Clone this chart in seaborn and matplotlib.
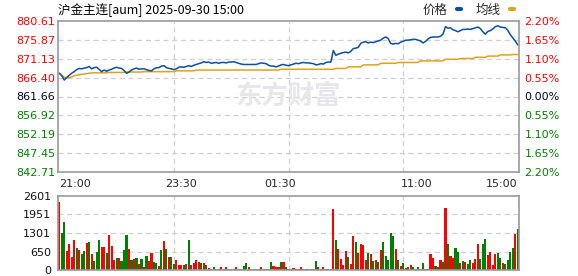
import matplotlib
matplotlib.use("Agg")
import matplotlib.pyplot as plt
from matplotlib.lines import Line2D
import seaborn as sns
import pandas as pd

# ---------------- data ----------------
title_text = "沪金主连[aum] 2025-09-30 15:00"
legend_labels = ["价格", "均线"]
watermark_text = "东方财富"

price_ticks = [842.71, 847.45, 852.19, 856.92, 861.66, 866.40, 871.13, 875.87, 880.61]
pct_labels = ["2.20%", "1.65%", "1.10%", "0.55%", "0.00%", "0.55%", "1.10%", "1.65%", "2.20%"]
time_labels = ["21:00", "23:30", "01:30", "11:00", "15:00"]
time_label_pos = [0, 48.8, 88.5, 143.5, 184]
grid_pos = [46, 92, 138]
vol_ticks = [0, 650, 1301, 1951, 2601]

price = [
    867.5, 866.9, 865.8, 866.4, 867.0, 867.5, 867.9, 868.4, 868.7, 868.6,
    868.8, 868.9, 869.2, 868.6, 868.9, 869.0, 868.5, 867.9, 868.3, 868.0,
    868.3, 868.5, 868.8, 869.0, 868.8, 868.7, 868.2, 867.5, 867.8, 868.3,
    868.6, 868.8, 868.5, 868.6, 868.6, 868.4, 868.2, 868.1, 868.6, 868.9,
    868.9, 869.3, 869.4, 868.9, 868.7, 868.6, 868.4,
    868.6, 869.0, 869.1, 869.0, 869.2, 869.4, 869.2, 869.5, 869.7, 869.9,
    870.1, 870.4, 870.2, 870.3, 870.0, 870.1, 870.2, 870.0, 870.2, 870.2,
    870.1, 870.3, 870.3, 870.4, 870.2, 870.0, 869.8, 869.7, 869.7, 869.7,
    869.7, 869.7, 869.7, 869.9, 870.1, 870.0, 869.9, 869.5, 869.3, 869.3,
    869.1, 869.3, 869.6, 869.7, 869.5, 869.4,
    869.6, 869.8, 870.0, 869.9, 870.1, 870.2, 870.1, 870.1, 870.0, 869.9,
    869.6, 869.7, 869.9, 869.8, 870.2, 870.3, 870.3, 873.2, 872.0, 872.3,
    872.5, 872.7, 872.8, 872.6, 873.0, 873.7, 873.8, 874.0, 875.0, 875.3,
    875.4, 875.1, 875.3, 875.2, 875.4, 875.6, 875.8, 876.3, 876.6, 876.2,
    875.0, 874.8, 875.0, 874.9, 875.3, 875.5,
    875.8, 875.8, 875.9, 876.0, 876.0, 875.8, 875.6, 875.1, 875.5, 876.1,
    876.5, 876.6, 876.6, 876.6, 876.8, 877.3, 879.2, 878.8, 878.9, 878.4,
    878.2, 877.9, 878.2, 878.5, 878.5, 878.6, 878.5, 878.7, 878.9, 879.1,
    878.7, 877.9, 877.3, 878.0, 878.2, 878.6, 879.2, 879.4, 879.1, 879.0,
    878.9, 878.3, 877.2, 876.4, 875.6, 874.6,
]

average = [
    867.5, 867.0, 866.5, 866.4, 866.4, 866.6, 866.9, 867.0, 867.1, 867.2,
    867.3, 867.4, 867.5, 867.6, 867.6, 867.6, 867.6, 867.6, 867.6, 867.6,
    867.7, 867.7, 867.7, 867.7, 867.7, 867.7, 867.7, 867.8, 867.8, 867.8,
    867.8, 867.8, 867.8, 867.8, 867.9, 867.9, 867.9, 867.9, 867.9, 867.9,
    867.9, 867.9, 867.9, 867.9, 867.9, 867.9, 867.9,
    868.1, 868.1, 868.1, 868.1, 868.1, 868.1, 868.1, 868.1, 868.3, 868.3,
    868.3, 868.3, 868.3, 868.3, 868.3, 868.3, 868.3, 868.3, 868.3, 868.3,
    868.3, 868.3, 868.3, 868.3, 868.3, 868.3, 868.3, 868.3, 868.3, 868.3,
    868.3, 868.3, 868.3, 868.3, 868.3, 868.3, 868.3, 868.3, 868.3, 868.3,
    868.3, 868.3, 868.5, 868.5, 868.5, 868.5,
    868.5, 868.5, 868.5, 868.5, 868.5, 868.5, 868.5, 868.5, 868.5, 868.5,
    868.5, 868.5, 868.5, 868.5, 868.5, 868.5, 868.5, 868.5, 868.7, 868.7,
    868.7, 868.7, 868.7, 869.1, 869.1, 869.1, 869.1, 869.1, 869.1, 869.6,
    869.6, 869.6, 869.6, 869.6, 869.6, 869.6, 870.0, 870.0, 870.0, 870.0,
    870.0, 870.0, 870.0, 870.2, 870.2, 870.2,
    870.2, 870.2, 870.2, 870.2, 870.2, 870.2, 870.6, 870.6, 870.6, 870.6,
    870.6, 870.6, 870.6, 870.6, 870.6, 870.6, 871.0, 871.0, 871.0, 871.0,
    871.0, 871.0, 871.2, 871.2, 871.2, 871.2, 871.2, 871.2, 871.5, 871.5,
    871.5, 871.5, 871.5, 871.8, 871.8, 871.8, 871.8, 871.8, 872.1, 872.1,
    872.1, 872.1, 872.1, 872.2, 872.2, 872.2,
]

volume = [
    2380, 1300, 1700, 680, 900, 450, 1050, 780, 700, 560,
    680, 940, 1000, 560, 330, 620, 1050, 800, 820, 590,
    1240, 850, 350, 420, 420, 330, 700, 1240, 740, 350,
    390, 420, 210, 390, 117, 500, 330, 590, 270, 234,
    150, 700, 1030, 740, 445, 445, 210,
    350, 160, 170, 176, 211, 1055, 190, 234, 352, 270,
    234, 234, 176, 70, 47, 94, 47, 30, 94, 23,
    94, 30, 30, 30, 94, 23, 23, 140, 234, 94,
    23, 23, 23, 23, 94, 23, 23, 23, 270, 152,
    94, 94, 270, 270, 94, 23,
    47, 60, 47, 35, 117, 35, 35, 35, 35, 35,
    316, 117, 35, 105, 35, 35, 35, 2145, 1055, 750,
    380, 170, 668, 469, 211, 1195, 1000, 600, 914, 879,
    352, 586, 563, 328, 352, 293, 703, 996, 492, 352,
    1313, 1195, 727, 352, 141, 234,
    82, 117, 176, 94, 40, 117, 35, 258, 35, 50,
    563, 410, 141, 94, 352, 293, 2192, 914, 492, 410,
    762, 633, 258, 328, 293, 211, 352, 258, 375, 902,
    400, 902, 1078, 527, 645, 176, 551, 609, 410, 258,
    211, 352, 645, 762, 1266, 1430,
]

direction = list(
    "rggrrrrgrg" "grgrgggrrg" "rrrgrgggrg" "rgrgrgrrgg" "rgrgrgg"
    "rrrgrgrrrr" "grgrrgrrrg" "rgggrggggr" "ggggrggggr" "rrgrgg"
    "rrgrrgrggg" "grgrrgrrgr" "rrrgrrgrrr" "rgrgrgrggg" "ggrgrg"
    "rgrgggrgrr" "rrgrrgrgrr" "ggrgrggrrr" "gggrrrrggr" "ggggrg"
)

# ---------------- style ----------------
sns.set_theme(style="white")
plt.rcParams["font.family"] = ["DejaVu Sans", "Noto Sans CJK SC"]
cjk = ["Noto Sans CJK SC", "DejaVu Sans"]

RED = "#ff0000"
GREEN = "#008000"
BLUE = "#0b4f9e"
GOLD = "#e0a21a"
SPINE = "#999999"
GRID = "#cfcfcf"

n = len(price)
idx = list(range(n))
df = pd.DataFrame({"idx": idx, "price": price, "avg": average,
                   "vol": volume, "dir": direction})

W, H = 578, 276
fig = plt.figure(figsize=(W / 100, H / 100), dpi=100)
ax1 = fig.add_axes([58 / W, 1 - 172 / H, 461 / W, 151 / H])
ax2 = fig.add_axes([58 / W, 1 - 270 / H, 461 / W, 74 / H])

# ---- price panel ----
sns.lineplot(data=df, x="idx", y="avg", color=GOLD, linewidth=1.1, ax=ax1)
sns.lineplot(data=df, x="idx", y="price", color=BLUE, linewidth=1.1, ax=ax1)
ax1.set_xlim(-0.5, n - 0.5)
ax1.set_ylim(price_ticks[0], price_ticks[-1])
ax1.set_yticks(price_ticks)
ax1.set_yticklabels([f"{v:.2f}" for v in price_ticks], fontsize=8)
for i, lab in enumerate(ax1.get_yticklabels()):
    lab.set_color(GREEN if i < 4 else ("#000033" if i == 4 else RED))
ax1.set_xticks(time_label_pos)
ax1.set_xticklabels(time_labels, fontsize=8)
xl = ax1.get_xticklabels()
xl[0].set_horizontalalignment("left")
xl[-1].set_horizontalalignment("right")
ax1.set_xticks(grid_pos, minor=True)
ax1.tick_params(axis="both", which="both", length=0)
ax1.tick_params(axis="y", pad=2)
ax1.tick_params(axis="x", pad=5)
ax1.grid(False)
for yv in price_ticks[1:-1]:
    ax1.axhline(yv, color=GRID, linestyle=(0, (4, 3)), linewidth=0.9, zorder=0)
for xv in grid_pos:
    ax1.axvline(xv, color=GRID, linestyle=(0, (4, 3)), linewidth=0.9, zorder=0)
ax1.set_xlabel("")
ax1.set_ylabel("")
for s in ax1.spines.values():
    s.set_color(SPINE)
    s.set_linewidth(1.2)

ax1.text(0.5, 0.5, watermark_text, transform=ax1.transAxes, ha="center",
         va="center", fontsize=19, fontweight="bold", color="#e6e6eb",
         family=cjk, zorder=0)

ax1r = ax1.twinx()
ax1r.set_ylim(ax1.get_ylim())
ax1r.set_yticks(price_ticks)
ax1r.set_yticklabels(pct_labels, fontsize=8)
for i, lab in enumerate(ax1r.get_yticklabels()):
    lab.set_color(GREEN if i < 4 else ("#000033" if i == 4 else RED))
ax1r.tick_params(axis="y", length=0, pad=4)
for s in ax1r.spines.values():
    s.set_visible(False)

# ---- volume panel ----
sns.barplot(data=df, x="idx", y="vol", hue="dir",
            palette={"r": RED, "g": GREEN}, dodge=False, legend=False,
            errorbar=None, width=0.85, saturation=1, linewidth=0, ax=ax2)
ax2.set_xlim(-0.5, n - 0.5)
ax2.set_ylim(0, vol_ticks[-1])
ax2.set_yticks(vol_ticks)
ax2.set_yticklabels([str(v) for v in vol_ticks], fontsize=8, color="#111111")
ax2.set_xticks([])
ax2.tick_params(axis="y", length=0, pad=5)
for yv in vol_ticks[1:-1]:
    ax2.axhline(yv, color=GRID, linestyle=(0, (4, 3)), linewidth=0.9, zorder=0)
for xv in grid_pos:
    ax2.axvline(xv, color=GRID, linestyle=(0, (4, 3)), linewidth=0.9, zorder=0)
ax2.set_xlabel("")
ax2.set_ylabel("")
for s in ax2.spines.values():
    s.set_color(SPINE)
    s.set_linewidth(1.2)

# ---- title and legend ----
fig.text(58 / W, 1 - 10 / H, title_text, ha="left", va="center",
         fontsize=9, family=cjk, color="#000000")
handles = [Line2D([0], [0], color=BLUE, linewidth=3),
           Line2D([0], [0], color=GOLD, linewidth=3)]
leg = fig.legend(handles, legend_labels, loc="center right",
                 bbox_to_anchor=(514 / W, 1 - 10 / H), ncol=2, frameon=False,
                 markerfirst=False, handlelength=0.35, handletextpad=0.7,
                 columnspacing=1.2, borderpad=0, borderaxespad=0,
                 prop={"family": cjk, "size": 9})

fig.savefig("out.png", dpi=100)
